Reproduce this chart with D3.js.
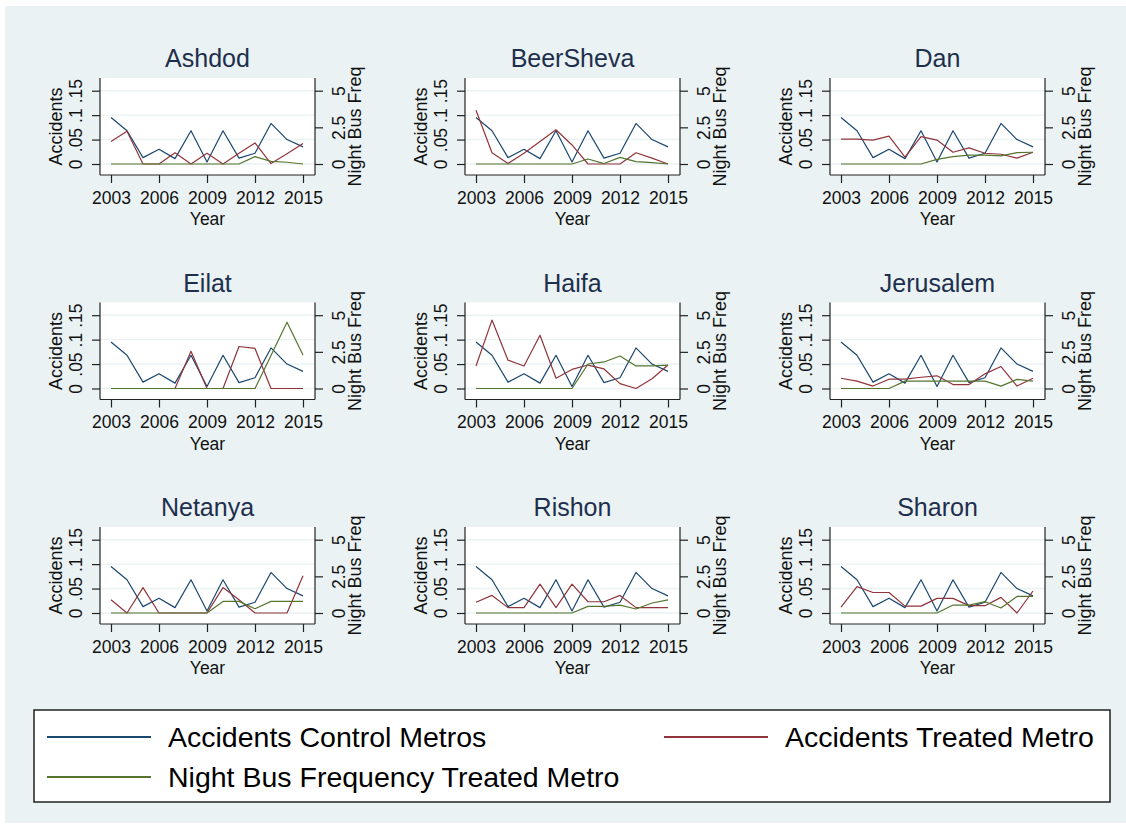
<!DOCTYPE html>
<html>
<head>
<meta charset="utf-8">
<script src="https://cdn.jsdelivr.net/npm/d3@7"></script>
<style>
  html, body { margin: 0; padding: 0; background: #ffffff; }
  svg { display: block; }
  text { font-family: "Liberation Sans", Arial, Helvetica, sans-serif; }
</style>
</head>
<body>
<svg id="chart" width="1126" height="827"></svg>
<script>
// ---------------- DATA ----------------
const years = [2003, 2004, 2005, 2006, 2007, 2008, 2009, 2010, 2011, 2012, 2013, 2014, 2015];
const metros = ["Ashdod", "BeerSheva", "Dan", "Eilat", "Haifa", "Jerusalem", "Netanya", "Rishon", "Sharon"];

// Accidents in control metros (same in every panel)
const accidentsControl = [0.095, 0.068, 0.013, 0.030, 0.011, 0.068, 0.004, 0.068, 0.012, 0.022, 0.083, 0.050, 0.035];

// Accidents in the treated metro
const treatedAshdod    = [0.046, 0.067, 0.000, 0.000, 0.023, 0.000, 0.022, 0.000, 0.022, 0.043, 0.001, 0.021, 0.042];
const treatedBeerSheva = [0.110, 0.023, 0.001, 0.022, 0.046, 0.070, 0.039, 0.000, 0.000, 0.000, 0.023, 0.012, 0.000];
const treatedDan       = [0.051, 0.051, 0.049, 0.057, 0.014, 0.056, 0.049, 0.024, 0.033, 0.022, 0.020, 0.012, 0.024];
const treatedEilat     = [0.000, 0.000, 0.000, 0.000, 0.000, 0.076, 0.000, 0.000, 0.086, 0.082, 0.000, 0.000, 0.000];
const treatedHaifa     = [0.046, 0.140, 0.058, 0.046, 0.109, 0.021, 0.039, 0.048, 0.040, 0.010, 0.000, 0.020, 0.048];
const treatedJerusalem = [0.021, 0.015, 0.005, 0.019, 0.019, 0.023, 0.026, 0.008, 0.008, 0.030, 0.045, 0.005, 0.021];
const treatedNetanya   = [0.027, 0.000, 0.052, 0.000, 0.000, 0.000, 0.000, 0.052, 0.027, 0.000, 0.000, 0.000, 0.076];
const treatedRishon    = [0.022, 0.036, 0.011, 0.011, 0.059, 0.011, 0.059, 0.023, 0.023, 0.036, 0.011, 0.011, 0.011];
const treatedSharon    = [0.012, 0.054, 0.042, 0.042, 0.014, 0.014, 0.030, 0.030, 0.015, 0.015, 0.032, 0.000, 0.045];

// Night bus frequency in the treated metro (right axis)
const busAshdod    = [0, 0, 0, 0, 0, 0, 0, 0, 0, 0.50, 0.18, 0.12, 0];
const busBeerSheva = [0, 0, 0, 0, 0, 0, 0, 0.34, 0.03, 0.45, 0.16, 0.10, 0];
const busDan       = [0, 0, 0, 0, 0, 0, 0.32, 0.50, 0.61, 0.61, 0.55, 0.77, 0.80];
const busEilat     = [0, 0, 0, 0, 0, 0, 0, 0, 0, 0, 2.25, 4.52, 2.29];
const busHaifa     = [0, 0, 0, 0, 0, 0, 0, 1.67, 1.81, 2.22, 1.54, 1.54, 1.60];
const busJerusalem = [0, 0, 0, 0, 0.50, 0.50, 0.50, 0.50, 0.50, 0.50, 0.16, 0.62, 0.50];
const busNetanya   = [0, 0, 0, 0, 0, 0, 0, 0.79, 0.79, 0.29, 0.79, 0.79, 0.79];
const busRishon    = [0, 0, 0, 0, 0, 0, 0, 0.45, 0.45, 0.54, 0.27, 0.68, 0.90];
const busSharon    = [0, 0, 0, 0, 0, 0, 0, 0.54, 0.54, 0.77, 0.34, 1.13, 1.13];

const leftTicks = [0, 0.05, 0.1, 0.15];
const leftTickLabels = ["0", ".05", ".1", ".15"];
const rightTicks = [0, 2.5, 5];
const rightTickLabels = ["0", "2.5", "5"];
const xTicks = [2003, 2006, 2009, 2012, 2015];

const seriesNames = ["Accidents Control Metros", "Accidents Treated Metro", "Night Bus Frequency Treated Metro"];

const treatedByMetro = {
  Ashdod: treatedAshdod, BeerSheva: treatedBeerSheva, Dan: treatedDan,
  Eilat: treatedEilat, Haifa: treatedHaifa, Jerusalem: treatedJerusalem,
  Netanya: treatedNetanya, Rishon: treatedRishon, Sharon: treatedSharon
};
const busByMetro = {
  Ashdod: busAshdod, BeerSheva: busBeerSheva, Dan: busDan,
  Eilat: busEilat, Haifa: busHaifa, Jerusalem: busJerusalem,
  Netanya: busNetanya, Rishon: busRishon, Sharon: busSharon
};

// ---------------- STYLE ----------------
const BG = "#eaf2f3";
const GRID = "#eaf2f3";
const C_BLUE = "#1a476f";
const C_RED = "#90353b";
const C_GREEN = "#55752f";
const AXIS = "#222222";
const TITLE = "#1e2f4d";

const svg = d3.select("#chart");

// outer background
svg.append("rect").attr("x", 5).attr("y", 6).attr("width", 1121).attr("height", 817).attr("fill", BG);

// panel geometry
const plotW = 215, plotH = 97;
const colStep = 365, rowStep = 224.5;
const originX = 100, originY = 78;

metros.forEach((m, i) => {
  const col = i % 3, row = Math.floor(i / 3);
  const px = originX + col * colStep;
  const py = originY + row * rowStep;

  const g = svg.append("g").attr("transform", `translate(${px},${py})`);

  const x = d3.scaleLinear().domain([2003, 2015]).range([11, 203]);
  const yL = d3.scaleLinear().domain([0, 0.15]).range([86, 12.7]);
  const yR = d3.scaleLinear().domain([0, 5]).range([86, 12.7]);

  // plot region
  g.append("rect").attr("x", 0).attr("y", 0).attr("width", plotW).attr("height", plotH).attr("fill", "#ffffff");

  // grid lines
  g.selectAll("line.grid").data(leftTicks).enter().append("line")
    .attr("x1", 0).attr("x2", plotW)
    .attr("y1", d => yL(d)).attr("y2", d => yL(d))
    .attr("stroke", GRID).attr("stroke-width", 1.4);

  // data lines
  const lineL = d3.line().x((d, j) => x(years[j])).y(d => yL(d));
  const lineR = d3.line().x((d, j) => x(years[j])).y(d => yR(d));

  g.append("path").datum(accidentsControl).attr("d", lineL)
    .attr("fill", "none").attr("stroke", C_BLUE).attr("stroke-width", 1.2).attr("stroke-linejoin", "round");
  g.append("path").datum(treatedByMetro[m]).attr("d", lineL)
    .attr("fill", "none").attr("stroke", C_RED).attr("stroke-width", 1.2).attr("stroke-linejoin", "round");
  g.append("path").datum(busByMetro[m]).attr("d", lineR)
    .attr("fill", "none").attr("stroke", C_GREEN).attr("stroke-width", 1.2).attr("stroke-linejoin", "round");

  // axis lines
  g.append("line").attr("x1", 0).attr("x2", 0).attr("y1", 0).attr("y2", plotH).attr("stroke", AXIS).attr("stroke-width", 1.2);
  g.append("line").attr("x1", plotW).attr("x2", plotW).attr("y1", 0).attr("y2", plotH).attr("stroke", AXIS).attr("stroke-width", 1.2);
  g.append("line").attr("x1", 0).attr("x2", plotW).attr("y1", plotH).attr("y2", plotH).attr("stroke", AXIS).attr("stroke-width", 1.2);

  // left axis
  const axL = g.append("g").call(
    d3.axisLeft(yL).tickValues(leftTicks).tickSize(8).tickSizeOuter(0)
      .tickFormat((d, j) => leftTickLabels[j])
  );
  axL.select(".domain").remove();
  axL.selectAll("line").attr("stroke", AXIS).attr("stroke-width", 1.2);
  axL.selectAll("text")
    .attr("x", null).attr("dy", null)
    .attr("transform", "translate(-18.5,0) rotate(-90)")
    .attr("text-anchor", "middle")
    .attr("fill", "#111").style("font-size", "17.5px");

  // right axis
  const axR = g.append("g").attr("transform", `translate(${plotW},0)`).call(
    d3.axisRight(yR).tickValues(rightTicks).tickSize(8).tickSizeOuter(0)
      .tickFormat((d, j) => rightTickLabels[j])
  );
  axR.select(".domain").remove();
  axR.selectAll("line").attr("stroke", AXIS).attr("stroke-width", 1.2);
  axR.selectAll("text")
    .attr("x", null).attr("dy", null)
    .attr("transform", "translate(30,0) rotate(-90)")
    .attr("text-anchor", "middle")
    .attr("fill", "#111").style("font-size", "17.5px");

  // bottom axis
  const axB = g.append("g").attr("transform", `translate(0,${plotH})`).call(
    d3.axisBottom(x).tickValues(xTicks).tickSize(8).tickSizeOuter(0).tickFormat(d3.format("d"))
  );
  axB.select(".domain").remove();
  axB.selectAll("line").attr("stroke", AXIS).attr("stroke-width", 1.2);
  axB.selectAll("text")
    .attr("y", 28.5).attr("dy", null)
    .attr("fill", "#111").style("font-size", "17.5px");

  // axis titles
  g.append("text").text("Year")
    .attr("x", plotW / 2).attr("y", 147)
    .attr("text-anchor", "middle").attr("fill", "#111").style("font-size", "17.5px");
  g.append("text").text("Accidents")
    .attr("transform", `translate(-38,${plotH / 2}) rotate(-90)`)
    .attr("text-anchor", "middle").attr("fill", "#111").style("font-size", "18px");
  g.append("text").text("Night Bus Freq")
    .attr("transform", `translate(${plotW + 46},${plotH / 2}) rotate(-90)`)
    .attr("text-anchor", "middle").attr("fill", "#111").style("font-size", "18px");

  // panel title
  g.append("text").text(m)
    .attr("x", plotW / 2).attr("y", -11)
    .attr("text-anchor", "middle").attr("fill", TITLE).style("font-size", "25px");
});

// ---------------- LEGEND ----------------
const lg = svg.append("g");
lg.append("rect").attr("x", 34).attr("y", 710).attr("width", 1076).attr("height", 92)
  .attr("fill", "#ffffff").attr("stroke", "#222").attr("stroke-width", 1.5);

const legendItems = [
  { name: seriesNames[0], color: C_BLUE, x: 47, y: 737 },
  { name: seriesNames[1], color: C_RED, x: 664, y: 737 },
  { name: seriesNames[2], color: C_GREEN, x: 47, y: 777 }
];
legendItems.forEach(it => {
  lg.append("line").attr("x1", it.x).attr("x2", it.x + 104).attr("y1", it.y).attr("y2", it.y)
    .attr("stroke", it.color).attr("stroke-width", 2);
  lg.append("text").text(it.name)
    .attr("x", it.x + 121).attr("y", it.y + 10)
    .attr("fill", "#000").style("font-size", "28.5px");
});
</script>
</body>
</html>
